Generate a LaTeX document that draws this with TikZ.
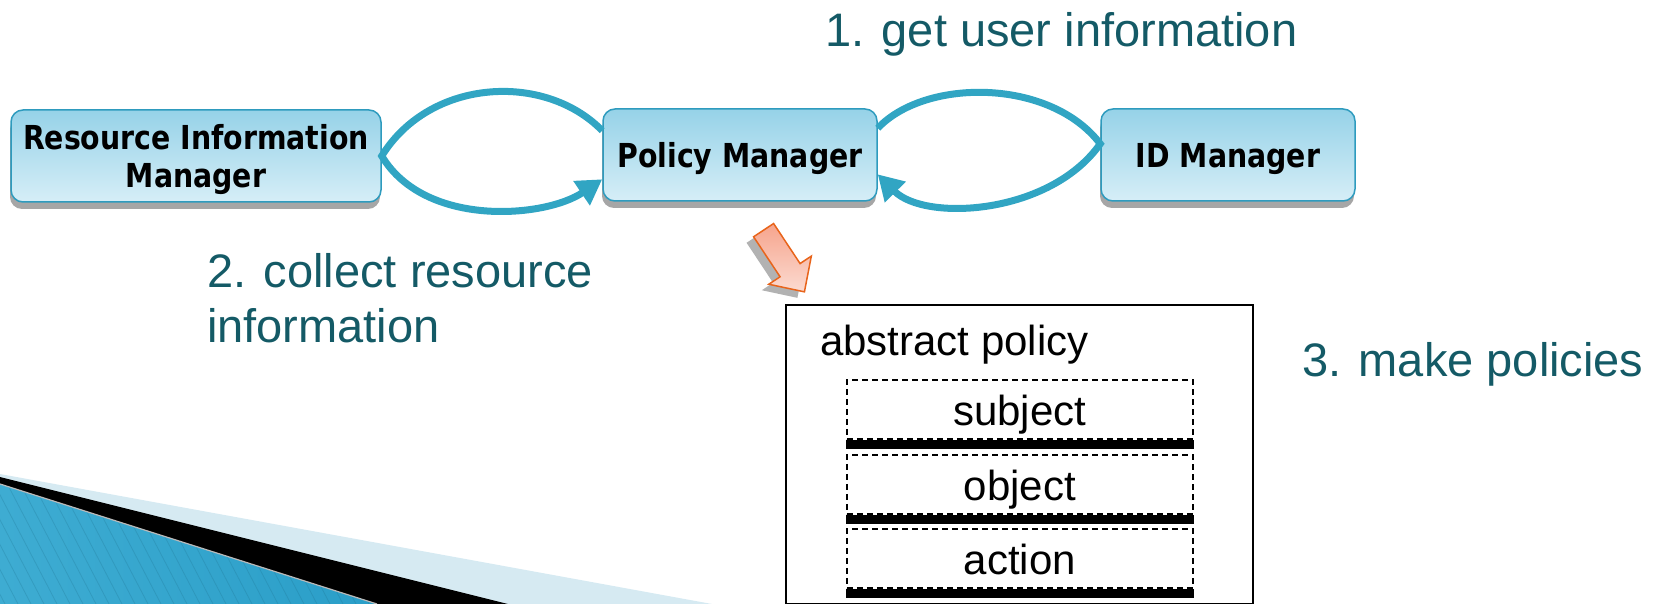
\documentclass[tikz,border=0pt]{standalone}
\usepackage{fontspec}
\setmainfont{Liberation Sans}
\newfontfamily\boxfont{DejaVu Sans}[FakeStretch=0.86]
\usetikzlibrary{arrows.meta,shadows}
\definecolor{noteteal}{RGB}{20,90,102}
\definecolor{flowblue}{RGB}{49,165,195}
\definecolor{boxedge}{RGB}{46,155,190}
\definecolor{boxtop}{RGB}{150,210,232}
\definecolor{boxbottom}{RGB}{214,238,247}
\definecolor{hintedge}{RGB}{232,100,27}
\definecolor{hintfill}{RGB}{246,164,140}
\definecolor{bandlight}{RGB}{214,234,242}
\definecolor{bandleft}{RGB}{62,172,210}
\definecolor{bandmid}{RGB}{95,192,225}
\definecolor{bandright}{RGB}{42,158,200}
\tikzset{
  manager/.style={draw=boxedge, line width=1.5pt, rounded corners=12pt,
    top color=boxtop, bottom color=boxbottom, align=center, inner sep=0pt,
    font=\boxfont\bfseries\fontsize{33}{38}\selectfont, minimum height=92pt, text depth=0pt,
    drop shadow={shadow xshift=-1pt, shadow yshift=-7pt, fill=gray!70, opacity=1}},
  flow/.style={draw=flowblue, line width=7pt, -{Triangle[length=25pt,width=28pt]}},
  stepnote/.style={text=noteteal, font=\fontsize{47}{55}\selectfont, anchor=base west,
    inner sep=0pt, align=left},
  part/.style={draw, dashed, dash pattern=on 6pt off 4pt, line width=1.6pt,
    minimum width=346pt, minimum height=59pt, inner sep=0pt, anchor=north west,
    text height=36pt, text depth=3pt, font=\fontsize{42}{48}\selectfont},
  hintarrow/.pic={\path[pic actions] (-37,-12) -- (11,-12) -- (11,-25.5) -- (37,0)
    -- (11,25.5) -- (11,12) -- (-37,12) -- cycle;}
}
\begin{document}
\begin{tikzpicture}[x=1pt,y=-1pt]
	\useasboundingbox (0,0) rectangle (1660,604);
	% slide corner
	\fill[bandlight] (0,474) -- (712,604) -- (0,604) -- cycle;
	\fill[black] (0,477) -- (508,604) -- (0,604) -- cycle;
	\begin{scope}
		\clip (0,484) -- (377,604) -- (0,604) -- cycle;
		\shade[left color=bandleft, middle color=bandmid, right color=bandright] (0,470) rectangle (380,604);
		\foreach \x in {-104,-91,...,390} \draw[bandright!70!black, opacity=.25, line width=.8pt] (\x,470) -- ++(70,134);
	\end{scope}
	\draw[gray!55, line width=1.2pt] (0,484) -- (377,604);

	\node[manager, minimum width=370pt] (rim) at (196,156) {Resource Information\\Manager};
	\node[manager, minimum width=274pt] (pm) at (740,155) {Policy Manager};
	\node[manager, minimum width=254pt] (idm) at (1228,155) {ID Manager};

	\draw[flow] (pm.170) .. controls (545,72) and (430,78) .. (rim.east)
		.. controls (425,228) and (545,218) .. (pm.190);
	\draw[flow] (pm.11) .. controls (925,78) and (1050,78) .. (idm.175)
		.. controls (1050,215) and (925,222) .. (pm.-8);

	\node[stepnote] (get) at (825,47) {1. get user information};
	\node[stepnote] (collect) at (207,342) {2. collect resource\\information};
	\node[stepnote] (make) at (1302,376) {3. make policies};

	\pic[fill=gray!60, shift={(777,267)}, rotate=-56.5] {hintarrow};
	\pic[draw=hintedge, line width=1.5pt, top color=hintfill, bottom color=hintfill!40,
		shift={(784,261)}, rotate=-56.5] {hintarrow};

	\node[draw, line width=2pt, minimum width=467pt, minimum height=299pt, anchor=north west]
		(policy) at (785,304) {};
	\node[anchor=base west, inner sep=0pt, font=\fontsize{42}{48}\selectfont] (abs) at (820,355) {abstract policy};
	\foreach \n/\t/\y in {subj/subject/379,obj/object/454,act/action/528} {
		\node[part] (\n) at (846,\y) {\t};
		\fill (\n.south west) rectangle ([yshift=-9pt]\n.south east);
	}
\end{tikzpicture}
\end{document}
